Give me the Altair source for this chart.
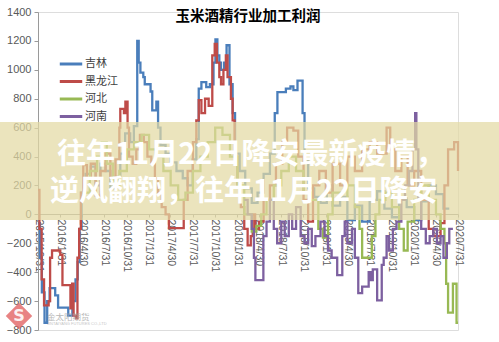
import altair as alt
import pandas as pd

title_text = "玉米酒精行业加工利润"
series_names = ["吉林", "黑龙江", "河北", "河南"]
series_colors = ["#4A7EBB", "#BE4B48", "#98B954", "#7D60A0"]
y_ticks = [-800, -600, -400, -200, 0, 200, 400, 600, 800, 1000, 1200, 1400]
x_ticks = ["2015-10-31", "2016-01-31", "2016-04-30", "2016-07-31", "2016-10-31",
           "2017-01-31", "2017-04-30", "2017-07-31", "2017-10-31", "2018-01-31",
           "2018-04-30", "2018-07-31", "2018-10-31", "2019-01-31", "2019-04-30",
           "2019-07-31", "2019-10-31", "2020-01-31", "2020-04-30", "2020-07-31"]
overlay_line1 = "往年11月22日降安最新疫情，"
overlay_line2 = "逆风翻翔，往年11月22日降安"
watermark_text = "金太阳期货"

# 吉林
jl_dates = ["2015-10-31", "2015-11-08", "2015-11-16", "2015-11-27", "2015-12-08", "2015-12-18",
            "2016-01-10", "2016-01-22", "2016-03-04", "2016-03-21", "2016-04-03", "2016-04-12",
            "2016-04-20", "2016-04-28", "2016-05-15", "2016-06-05", "2016-06-25", "2016-07-15",
            "2016-08-05", "2016-08-25", "2016-09-15", "2016-10-05", "2016-10-25", "2016-11-15",
            "2016-11-30", "2016-12-14", "2016-12-20", "2016-12-27", "2017-01-08", "2017-01-14",
            "2017-02-07", "2017-02-14", "2017-03-03", "2017-03-10", "2017-03-20", "2017-04-10",
            "2017-05-01", "2017-05-25", "2017-06-20", "2017-07-10", "2017-07-31", "2017-08-15",
            "2017-08-25", "2017-09-05", "2017-09-25", "2017-10-10", "2017-10-25", "2017-11-02",
            "2017-11-10", "2017-11-18", "2017-11-25", "2017-12-08", "2017-12-18", "2017-12-30",
            "2018-01-12", "2018-01-22", "2018-02-10", "2018-03-05", "2018-04-01", "2018-04-25",
            "2018-05-20", "2018-06-15", "2018-07-05", "2018-07-16", "2018-08-20", "2018-09-08",
            "2018-09-20", "2018-10-07", "2018-10-28", "2018-11-05", "2018-11-20", "2018-12-15",
            "2019-01-10", "2019-02-05", "2019-03-01", "2019-04-01", "2019-05-01", "2019-06-01",
            "2019-07-01", "2019-08-01", "2019-09-01", "2019-10-01", "2019-11-01", "2019-12-01",
            "2020-01-01", "2020-02-01", "2020-03-01", "2020-04-01", "2020-05-01", "2020-06-01",
            "2020-06-25"]
jl_vals = [-60, -300, -540, -750, -600, -510,
           -560, -645, -700, -600, -450, -330,
           -100, 150, 280, 330, 200, 350,
           300, 180, 260, 420, 560, 500,
           610, 1200, 1050, 980, 950, 900,
           850, 720, 780, 600, 480, 420,
           360, 300, 250, 200, 380, 520,
           870, 915, 880, 900, 1050, 1210,
           1100, 1050, 1000, 1050, 1170, 900,
           700, 420, 300, 180, 80, 150,
           280, 420, 700, 845, 870, 885,
           860, 925, 700, 380, 180, 120,
           80, 200, 60, 120, -40, 60,
           -50, 100, 160, 40, -20, 110,
           50, -40, 90, 200, 140, 40,
           40]

# 黑龙江
hlj_dates = ["2015-10-31", "2015-11-06", "2015-11-15", "2015-11-25", "2015-12-14", "2015-12-20",
             "2015-12-28", "2016-01-31", "2016-02-09", "2016-03-13", "2016-03-20", "2016-03-26",
             "2016-04-05", "2016-04-11", "2016-04-18", "2016-04-25", "2016-05-05", "2016-05-20",
             "2016-06-05", "2016-06-25", "2016-07-15", "2016-08-05", "2016-08-25", "2016-09-15",
             "2016-10-01", "2016-10-05", "2016-10-20", "2016-10-26", "2016-11-04", "2016-11-10",
             "2016-11-25", "2016-12-10", "2016-12-25", "2017-01-10", "2017-01-25", "2017-02-10",
             "2017-02-25", "2017-03-10", "2017-03-25", "2017-04-10", "2017-04-24", "2017-06-24",
             "2017-07-10", "2017-08-01", "2017-08-15", "2017-08-25", "2017-09-05", "2017-09-20",
             "2017-10-05", "2017-10-20", "2017-10-30", "2017-11-08", "2017-11-18", "2017-11-25",
             "2017-12-05", "2017-12-15", "2017-12-22", "2018-01-05", "2018-01-12", "2018-01-20",
             "2018-02-01", "2018-02-15", "2018-03-01", "2018-03-15", "2018-03-28", "2018-04-05",
             "2018-04-15", "2018-05-01", "2018-05-20", "2018-06-15", "2018-07-10", "2018-08-05",
             "2018-08-25", "2018-09-20", "2018-10-10", "2018-11-01", "2018-11-20", "2018-12-10",
             "2019-01-05", "2019-02-01", "2019-03-01", "2019-04-01", "2019-05-01", "2019-06-01",
             "2019-07-01", "2019-08-01", "2019-09-01", "2019-10-10", "2019-10-25", "2019-11-15",
             "2019-12-10", "2020-01-05", "2020-02-01", "2020-03-01", "2020-04-01", "2020-04-20",
             "2020-05-20", "2020-06-05", "2020-06-20", "2020-07-15", "2020-07-31"]
hlj_vals = [170, -100, -450, -630, -600, -300,
            -250, -280, -490, -650, -480, -700,
            -720, -300, -100, 150, 340, 250,
            350, 130, 300, 420, 250, 380,
            600, 730, 700, 780, 600, 400,
            350, 450, 550, 500, 400, 350,
            250, 150, 50, 0, -95, 100,
            300, 500, 650, 790, 700, 800,
            750, 1100, 1180, 1050, 950, 900,
            1000, 1100, 950, 800, 650, 400,
            200, 50, -100, -215, -150, 0,
            -100, -50, 100, 200, 350, 500,
            600, 580, 400, 100, -50, 200,
            300, 150, 350, 200, 400, 300,
            450, 500, 420, 600, 450, 300,
            400, 200, 300, 100, -100, -150,
            -60, 200, 450, 500, 300]

# 河北
hb_dates = ["2016-05-01", "2016-06-01", "2016-07-01", "2016-07-20", "2016-08-10", "2016-09-05",
            "2016-10-01", "2016-11-01", "2016-12-01", "2017-01-01", "2017-02-01", "2017-03-01",
            "2017-04-01", "2017-05-01", "2017-06-01", "2017-07-01", "2017-08-01", "2017-09-01",
            "2017-10-01", "2017-11-01", "2017-12-01", "2018-01-01", "2018-02-01", "2018-03-01",
            "2018-04-01", "2018-04-20", "2018-05-10", "2018-06-01", "2018-07-01", "2018-08-01",
            "2018-09-01", "2018-10-01", "2018-11-01", "2018-12-01", "2019-01-01", "2019-01-20",
            "2019-02-10", "2019-03-01", "2019-04-01", "2019-05-01", "2019-06-01", "2019-06-20",
            "2019-07-01", "2019-07-31", "2019-08-10", "2019-08-25", "2019-09-10", "2019-10-05",
            "2019-11-01", "2019-12-01", "2019-12-20", "2020-01-05", "2020-02-01", "2020-03-01",
            "2020-04-01", "2020-05-01", "2020-05-20", "2020-06-05", "2020-06-12", "2020-06-20",
            "2020-07-05", "2020-07-10", "2020-07-20", "2020-07-25", "2020-07-31"]
hb_vals = [150, 300, 400, 500, 350, 200,
           300, 450, 500, 550, 450, 400,
           300, 200, 100, 150, 300, 400,
           500, 600, 550, 400, 200, 0,
           -120, -80, 0, 100, 200, 300,
           400, 300, 150, 100, -100, -160,
           0, 150, 100, 200, 50, -100,
           -300, -300, -150, 0, 100, 150,
           50, -100, -250, -50, 100, 200,
           100, 0, -100, -200, -480, -680,
           -680, -480, -480, -750, -750]

# 河南
hn_dates = ["2018-03-01", "2018-03-15", "2018-04-01", "2018-04-10", "2018-04-16", "2018-05-19",
            "2018-06-01", "2018-06-15", "2018-07-01", "2018-07-15", "2018-08-01", "2018-08-15",
            "2018-09-01", "2018-09-15", "2018-10-01", "2018-10-20", "2018-11-05", "2018-11-20",
            "2018-12-05", "2018-12-20", "2019-01-10", "2019-01-27", "2019-02-10", "2019-02-25",
            "2019-03-20", "2019-04-10", "2019-04-20", "2019-05-01", "2019-05-20", "2019-06-01",
            "2019-06-15", "2019-07-01", "2019-07-28", "2019-08-05", "2019-08-14", "2019-09-01",
            "2019-09-20", "2019-09-28", "2019-10-10", "2019-10-20", "2019-11-05", "2019-11-20",
            "2019-12-10", "2019-12-25", "2020-01-10", "2020-01-25", "2020-02-05", "2020-02-10",
            "2020-02-18", "2020-03-01", "2020-03-20", "2020-04-05", "2020-04-20", "2020-05-05",
            "2020-05-20", "2020-06-01", "2020-06-15", "2020-06-25", "2020-07-10"]
hn_vals = [100, 0, -100, -300, -455, -150,
           -50, 100, -100, -200, -50, -150,
           0, -100, 50, -150, -200, -100,
           -220, -150, -50, -150, -250, -300,
           -420, -150, -50, -200, -100, -300,
           -545, -500, -400, -455, -380, -595,
           -350, -300, -150, -250, -100, -50,
           100, 200, 300, 450, 700, 450,
           100, -100, -200, -150, -100, -200,
           -150, -300, -200, -100, -100]

frames = []
for name, d, v in [("吉林", jl_dates, jl_vals), ("黑龙江", hlj_dates, hlj_vals),
                   ("河北", hb_dates, hb_vals), ("河南", hn_dates, hn_vals)]:
    frames.append(pd.DataFrame({"date": d, "value": v, "series": name}))
df = pd.concat(frames, ignore_index=True)


def dt(s):
    y, m, d = [int(p) for p in s.split("-")]
    return alt.DateTime(year=y, month=m, date=d, utc=True)


x_enc = alt.X("date:T",
              scale=alt.Scale(type="utc", domain=[dt(x_ticks[0]), dt(x_ticks[-1])]),
              axis=alt.Axis(values=[dt(s) for s in x_ticks], format="%Y/%-m/%-d",
                            labelAngle=90, offset=-116, grid=False, title=None,
                            tickSize=3, labelFontSize=10.5, labelColor="#595959",
                            labelFont="Liberation Sans", domainColor="#9a9a9a",
                            tickColor="#9a9a9a", labelPadding=2, labelOverlap=False,
                            labelFlush=False))
y_enc = alt.Y("value:Q",
              scale=alt.Scale(domain=[-800, 1400], nice=False, zero=False),
              axis=alt.Axis(values=y_ticks, format="d", grid=False, title=None,
                            labelFontSize=11, labelColor="#595959",
                            labelFont="Liberation Sans", domainColor="#9a9a9a",
                            tickColor="#9a9a9a", tickSize=4, labelPadding=3))

lines = alt.Chart(df).mark_line(strokeWidth=2.3, interpolate="step-after").encode(
    x=x_enc,
    y=y_enc,
    color=alt.Color("series:N",
                    scale=alt.Scale(domain=series_names, range=series_colors),
                    sort=series_names,
                    legend=alt.Legend(orient="none", legendX=22, legendY=41, title=None,
                                      symbolType="M-1.2,0H1.2", symbolSize=350,
                                      symbolStrokeWidth=3, labelFontSize=11,
                                      labelFont="Noto Sans CJK SC", labelColor="#404040",
                                      rowPadding=0.5, padding=0, labelOffset=3)),
    detail="series:N",
)

dummy = pd.DataFrame({"k": [0]})
band = alt.Chart(dummy).mark_rect(color="#e3d9a3", opacity=0.72).encode(
    x=alt.value(-38), x2=alt.value(461), y=alt.value(110), y2=alt.value(208))

txt_common = dict(align="left", baseline="middle", font="Noto Sans CJK SC",
                  fontWeight="bold", fontSize=29)
text1 = alt.Chart(dummy).mark_text(color="white", **txt_common).encode(
    x=alt.value(19), y=alt.value(143), text=alt.value(overlay_line1))
text2 = alt.Chart(dummy).mark_text(color="white", **txt_common).encode(
    x=alt.value(12), y=alt.value(180), text=alt.value(overlay_line2))

logo = alt.Chart(dummy).mark_point(shape="diamond", filled=True, color="#e05a5a",
                                   opacity=0.75, size=700).encode(
    x=alt.value(-19), y=alt.value(304))
logo_s = alt.Chart(dummy).mark_text(color="white", fontSize=16, fontWeight="bold",
                                    font="DejaVu Sans", align="center", baseline="middle",
                                    opacity=0.9).encode(
    x=alt.value(-19), y=alt.value(304), text=alt.value("S"))
wm = alt.Chart(dummy).mark_text(color="#a8a8a8", fontSize=8.5, font="Noto Sans CJK SC",
                                align="left", baseline="middle", opacity=0.8).encode(
    x=alt.value(9), y=alt.value(305), text=alt.value(watermark_text))
wm2 = alt.Chart(dummy).mark_text(color="#b8b8b8", fontSize=4, font="Liberation Sans",
                                 align="left", baseline="middle", opacity=0.8).encode(
    x=alt.value(9), y=alt.value(312), text=alt.value("JINTAIYANG FUTURES CO.,LTD"))

chart = alt.layer(lines, band, text1, text2, logo, logo_s, wm, wm2).properties(
    width=420, height=318,
    title=alt.TitleParams(title_text, fontSize=14.5, fontWeight="bold",
                          font="Noto Sans CJK SC", color="#000000", anchor="middle",
                          frame="group", baseline="middle", offset=-25),
    padding={"left": 38, "top": 12, "right": 41, "bottom": 12},
    autosize=alt.AutoSizeParams(type="none"),
).configure_view(stroke=None).configure(background="white")

chart.save("out.html", embed_options={"renderer": "svg", "actions": False})
